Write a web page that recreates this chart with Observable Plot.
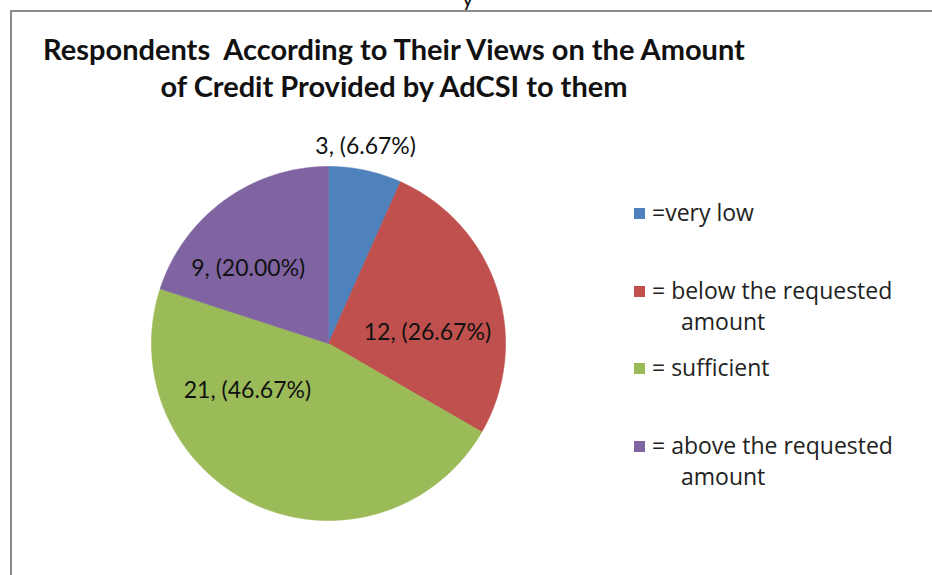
<!DOCTYPE html>
<html>
<head>
<meta charset="utf-8">
<script src="https://cdn.jsdelivr.net/npm/d3@7"></script>
<script src="https://cdn.jsdelivr.net/npm/@observablehq/plot@0.6"></script>
<style>
  html, body { margin: 0; padding: 0; background: #fff; }
  #wrap { position: relative; width: 932px; height: 575px; overflow: hidden; font-family: Lato, "Open Sans", sans-serif; }
  #frame { position: absolute; left: 10px; top: 10px; width: 940px; height: 600px; border-left: 2px solid #8a8a8a; border-top: 2px solid #8a8a8a; }
  #cut { position: absolute; left: 462px; top: -16px; font-size: 22px; color: #111; }
  #title { position: absolute; left: 0; top: 30px; width: 788px; text-align: center; font-weight: bold; font-size: 29px; line-height: 37px; color: #111; white-space: pre; }
  #chart { position: absolute; left: 0; top: 0; }
  #legend { position: absolute; left: 634px; top: 0; font-size: 23px; color: #222; font-family: "Open Sans", Lato, sans-serif; }
  .item { position: absolute; white-space: nowrap; line-height: 31px; }
  .sw { position: absolute; left: 0; width: 11px; height: 11px; }
  .tx { position: absolute; left: 18px; white-space: pre; }
</style>
</head>
<body>
<div id="wrap">
  <div id="frame"></div>
  <div id="cut">y</div>
  <div id="chart"></div>
  <div id="title"></div>
  <div id="legend"></div>
</div>
<script>
// ---- data ----
const categories = ["very low", "below the requested amount", "sufficient", "above the requested amount"];
const counts = [3, 12, 21, 9];
const percents = ["6.67%", "26.67%", "46.67%", "20.00%"];
const legendLabels = [["=very low"], ["= below the requested", "amount"], ["= sufficient"], ["= above the requested", "amount"]];
const colors = ["#4F81BD", "#C0504D", "#9BBB59", "#8064A2"];
const titleLines = ["Respondents  According to Their Views on the Amount", "of Credit Provided by AdCSI to them"];

// ---- layout (label placement: angle in degrees clockwise from top, radius as fraction) ----
const labelPlace = [{a: 10.7, r: 1.13}, {a: 83.7, r: 0.562}, {a: 239.8, r: 0.53}, {a: 313, r: 0.62}];
const legendTops = [197, 275, 352, 430];

document.getElementById("title").textContent = titleLines.join("\n");

const arcs = d3.pie().sort(null).value(d => d)(counts);
const pts = [];
arcs.forEach((a, i) => {
  const cat = categories[i];
  pts.push({cat, x: 0, y: 0});
  const n = Math.max(2, Math.ceil((a.endAngle - a.startAngle) / (Math.PI / 360)));
  for (let k = 0; k <= n; k++) {
    const t = a.startAngle + (a.endAngle - a.startAngle) * k / n;
    pts.push({cat, x: Math.sin(t), y: Math.cos(t)});
  }
  pts.push({cat, x: 0, y: 0});
});
const labels = arcs.map((a, i) => {
  const p = labelPlace[i];
  const t = p.a * Math.PI / 180;
  return {cat: categories[i], text: `${counts[i]}, (${percents[i]})`, x: p.r * Math.sin(t), y: p.r * Math.cos(t)};
});

const cx = 328, cy = 343, R = 177, W = 932, H = 575;
const chart = Plot.plot({
  width: W, height: H,
  marginLeft: cx - R, marginRight: W - (cx + R), marginTop: cy - R, marginBottom: H - (cy + R),
  x: {domain: [-1, 1], axis: null},
  y: {domain: [-1, 1], axis: null},
  color: {domain: categories, range: colors},
  style: {background: "transparent", overflow: "visible"},
  marks: [
    Plot.line(pts, {x: "x", y: "y", z: "cat", fill: "cat", stroke: "cat", strokeWidth: 0.6, curve: "linear"}),
    Plot.text(labels, {x: "x", y: "y", text: "text", fontSize: 23, fill: "#111", fontFamily: "Lato, 'Open Sans', sans-serif"})
  ]
});
document.getElementById("chart").appendChild(chart);

const leg = document.getElementById("legend");
legendLabels.forEach((lines, i) => {
  const it = document.createElement("div");
  it.className = "item";
  it.style.top = legendTops[i] + "px";
  const sw = document.createElement("div");
  sw.className = "sw";
  sw.style.background = colors[i];
  sw.style.top = "11px";
  it.appendChild(sw);
  const tx = document.createElement("div");
  tx.className = "tx";
  tx.textContent = lines[0];
  it.appendChild(tx);
  if (lines[1]) {
    const t2 = document.createElement("div");
    t2.className = "tx";
    t2.style.left = "47px"; t2.style.top = "31px";
    t2.textContent = lines[1];
    it.appendChild(t2);
  }
  leg.appendChild(it);
});
</script>
</body>
</html>
